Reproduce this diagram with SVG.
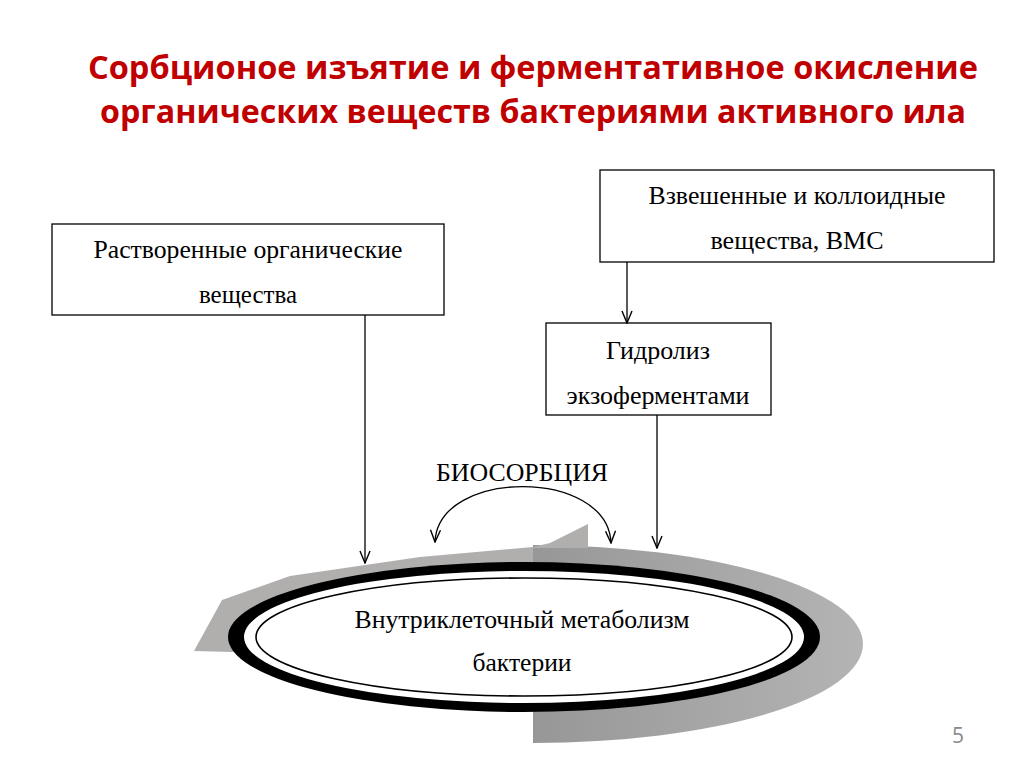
<svg xmlns="http://www.w3.org/2000/svg" width="1024" height="767" viewBox="0 0 1024 767">
  <defs>
    <marker id="arr" viewBox="0 0 14 12" refX="13" refY="6" markerWidth="14" markerHeight="12" markerUnits="userSpaceOnUse" orient="auto-start-reverse">
      <path d="M1,1 L13,6 L1,11" fill="none" stroke="#000" stroke-width="1.4"/>
    </marker>
    <linearGradient id="darkg" x1="0" y1="0" x2="1" y2="0">
      <stop offset="0" stop-color="#979797"/>
      <stop offset="1" stop-color="#b4b4b4"/>
    </linearGradient>
    <style>
      .title{font-family:"Open Sans","Liberation Sans",sans-serif;font-weight:bold;font-size:32px;fill:#c00000;text-anchor:middle}
      .lbl{font-family:"Liberation Serif","Times New Roman",serif;font-size:25px;fill:#000;text-anchor:middle}
      .box{fill:#fff;stroke:#000;stroke-width:1.3}
      .conn{fill:none;stroke:#000;stroke-width:1.3}
    </style>
  </defs>
  <rect width="1024" height="767" fill="#fff"/>

  <g id="title">
    <text class="title" x="533" y="79" textLength="890" lengthAdjust="spacingAndGlyphs">Сорбционое изъятие и ферментативное окисление</text>
    <text class="title" x="533" y="123" textLength="866" lengthAdjust="spacingAndGlyphs">органических веществ бактериями активного ила</text>
  </g>

  <g id="node-dissolved">
    <rect class="box" x="52" y="224" width="392" height="91"/>
    <text class="lbl" x="248" y="258" textLength="309" lengthAdjust="spacingAndGlyphs">Растворенные органические</text>
    <text class="lbl" x="248" y="303" textLength="98" lengthAdjust="spacingAndGlyphs">вещества</text>
  </g>

  <g id="node-suspended">
    <rect class="box" x="600" y="170" width="394" height="92"/>
    <text class="lbl" x="797" y="204" textLength="297" lengthAdjust="spacingAndGlyphs">Взвешенные и коллоидные</text>
    <text class="lbl" x="797" y="249" textLength="173" lengthAdjust="spacingAndGlyphs">вещества, ВМС</text>
  </g>

  <g id="node-hydrolysis">
    <rect class="box" x="546" y="323" width="225" height="92"/>
    <text class="lbl" x="658" y="359" textLength="104" lengthAdjust="spacingAndGlyphs">Гидролиз</text>
    <text class="lbl" x="658" y="404" textLength="183" lengthAdjust="spacingAndGlyphs">экзоферментами</text>
  </g>

  <g id="node-metabolism">
    <path d="M533,545 A330,99 0 0 1 533,743 Z" fill="url(#darkg)"/>
    <polygon points="194,651 222,600 290,576 420,557 533,547 550,543 588,524 588,548 533,548 533,600 232,652" fill="#b1aeae"/>
    <ellipse cx="524" cy="637" rx="296" ry="75" fill="#000"/>
    <ellipse cx="524" cy="637" rx="280" ry="66" fill="#fff"/>
    <ellipse cx="524" cy="637" rx="268" ry="59" fill="#fff" stroke="#000" stroke-width="1.6"/>
    <text class="lbl" x="522" y="628" textLength="335" lengthAdjust="spacingAndGlyphs">Внутриклеточный метаболизм</text>
    <text class="lbl" x="522" y="671" textLength="99" lengthAdjust="spacingAndGlyphs">бактерии</text>
  </g>

  <g id="label-biosorption">
    <text class="lbl" x="522" y="481" textLength="172" lengthAdjust="spacingAndGlyphs">БИОСОРБЦИЯ</text>
  </g>

  <g id="connectors">
    <line class="conn" x1="365" y1="315" x2="365" y2="563" marker-end="url(#arr)"/>
    <line class="conn" x1="627" y1="262" x2="627" y2="323" marker-end="url(#arr)"/>
    <line class="conn" x1="657" y1="415" x2="657" y2="548" marker-end="url(#arr)"/>
    <path class="conn" d="M435,542 C438,468 608,468 611,543" marker-start="url(#arr)" marker-end="url(#arr)"/>
  </g>

  <g id="page-number">
    <text x="958" y="743" font-family="'Open Sans','Liberation Sans',sans-serif" font-size="21" fill="#8a8a8a" text-anchor="middle">5</text>
  </g>
</svg>
